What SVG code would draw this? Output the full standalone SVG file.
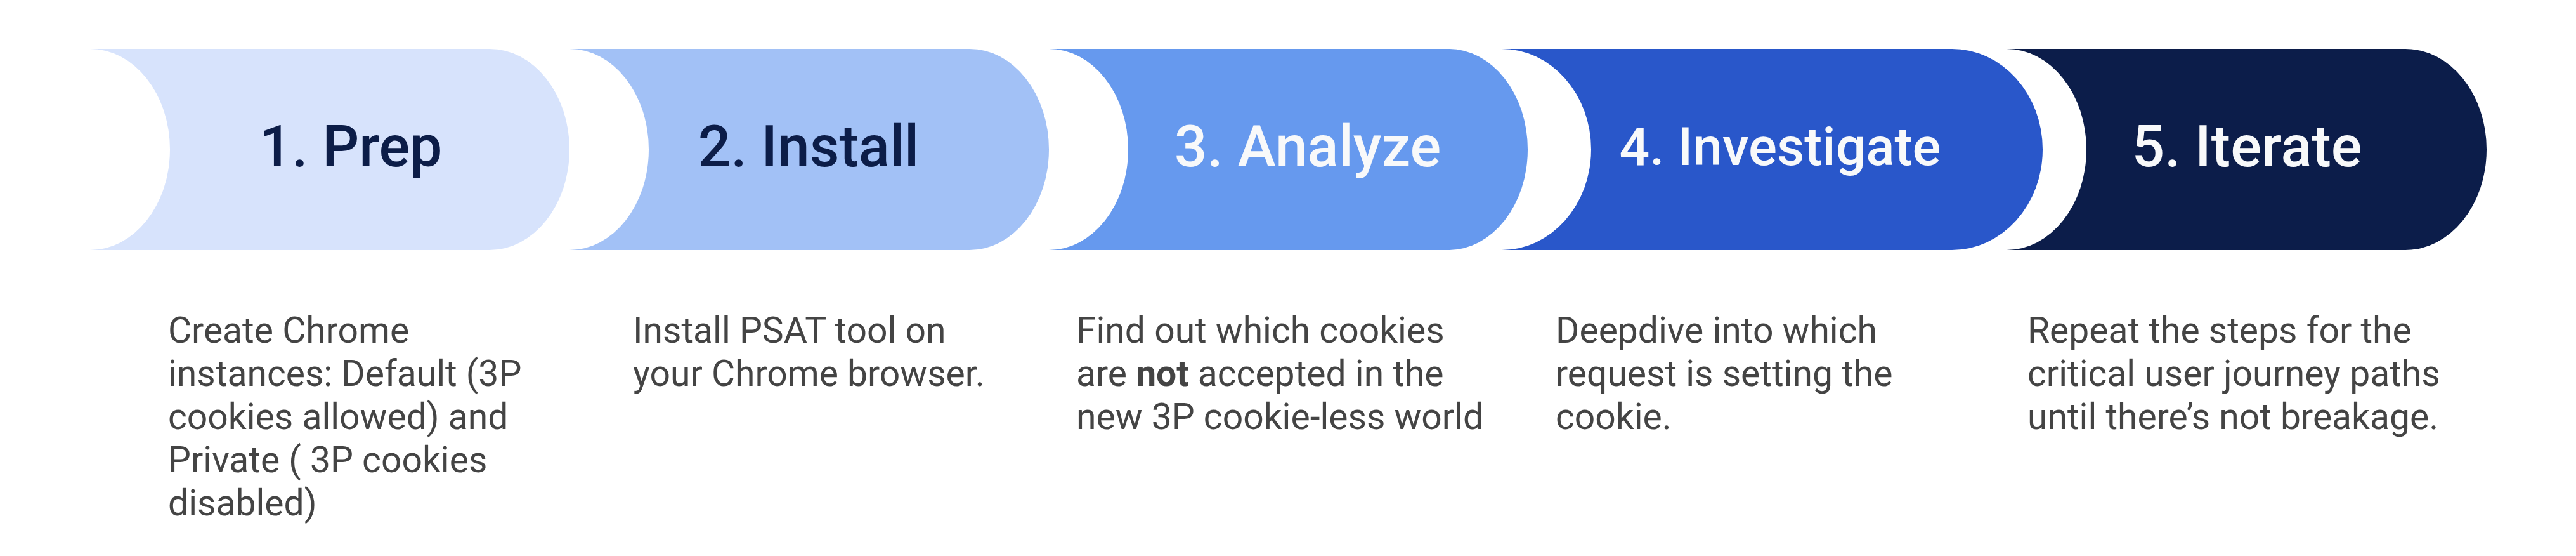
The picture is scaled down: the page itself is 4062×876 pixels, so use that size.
<svg xmlns="http://www.w3.org/2000/svg" width="4062" height="876" viewBox="0 0 4062 876">
<style>
.title{font-family:Roboto,"Noto Sans",sans-serif;font-weight:500;font-size:91px;text-anchor:middle}
.title.small{font-size:84px}
.dark{fill:#0C1D48}
.light{fill:#F8F9FA}
.body{font-family:Roboto,"Noto Sans",sans-serif;font-weight:400;font-size:57px;fill:#444444}
.bold{font-weight:700}
</style>
<rect x="0" y="0" width="4062" height="876" fill="#FFFFFF"/>
<g id="connectors"></g>
<g id="step1">
<path d="M142,77 L772,77 A126,158.5 0 0 1 772,394 L142,394 A126,158.5 0 0 0 142,77 Z" fill="#D7E3FC"/>
<text class="title dark" x="553" y="262">1. Prep</text>
<text class="body" x="265" y="540">Create Chrome</text>
<text class="body" x="265" y="608">instances: Default (3P</text>
<text class="body" x="265" y="676">cookies allowed) and</text>
<text class="body" x="265" y="744">Private ( 3P cookies</text>
<text class="body" x="265" y="812">disabled)</text>
</g>
<g id="step2">
<path d="M898,77 L1529,77 A125,158.5 0 0 1 1529,394 L898,394 A125,158.5 0 0 0 898,77 Z" fill="#A2C1F6"/>
<text class="title dark" x="1275" y="262">2. Install</text>
<text class="body" x="998" y="540">Install PSAT tool on</text>
<text class="body" x="998" y="608">your Chrome browser.</text>
</g>
<g id="step3">
<path d="M1654,77 L2284,77 A125,158.5 0 0 1 2284,394 L1654,394 A125,158.5 0 0 0 1654,77 Z" fill="#6699EE"/>
<text class="title light" x="2062" y="262">3. Analyze</text>
<text class="body" x="1697" y="540">Find out which cookies</text>
<text class="body" x="1697" y="608">are <tspan class="bold">not</tspan> accepted in the</text>
<text class="body" x="1697" y="676">new 3P cookie-less world</text>
</g>
<g id="step4">
<path d="M2368,77 L3078,77 A143,158.5 0 0 1 3078,394 L2368,394 A141,158.5 0 0 0 2368,77 Z" fill="#2957CA"/>
<text class="title small light" x="2807" y="260">4. Investigate</text>
<text class="body" x="2453" y="540">Deepdive into which</text>
<text class="body" x="2453" y="608">request is setting the</text>
<text class="body" x="2453" y="676">cookie.</text>
</g>
<g id="step5">
<path d="M3164,77 L3793,77 A128,158.5 0 0 1 3793,394 L3164,394 A126,158.5 0 0 0 3164,77 Z" fill="#0C1D4A"/>
<text class="title light" x="3543" y="262">5. Iterate</text>
<text class="body" x="3197" y="540">Repeat the steps for the</text>
<text class="body" x="3197" y="608">critical user journey paths</text>
<text class="body" x="3197" y="676">until there’s not breakage.</text>
</g>
</svg>
